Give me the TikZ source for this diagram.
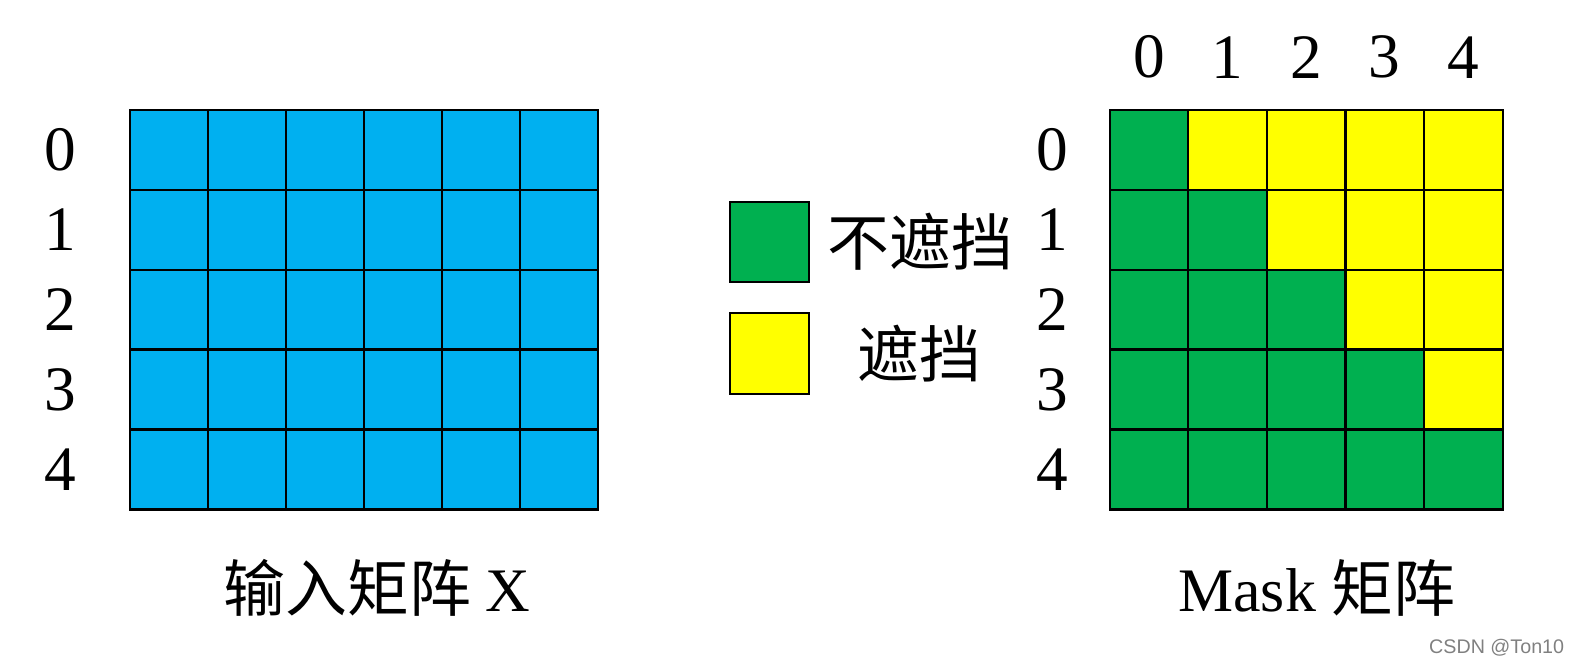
\documentclass[tikz,border=0pt]{standalone}
\usepackage{fontspec}
\setmainfont{Liberation Serif}
\newfontfamily\cjk{Noto Sans CJK SC}
\newfontfamily\wmfont{Liberation Sans}
\usetikzlibrary{positioning}

\definecolor{inblue}{HTML}{00B0F0}
\definecolor{keepgreen}{HTML}{00B050}
\definecolor{maskyellow}{HTML}{FFFF00}

\tikzset{
	cell/.style={draw, line width=0.6pt, minimum width=0.7805cm, minimum height=0.7996cm, inner sep=0pt, outer sep=0pt},
	idx/.style={font=\fontsize{18}{20}\selectfont, inner sep=0pt},
	lbl/.style={font=\fontsize{17.6}{20}\selectfont, inner sep=0pt},
}

\begin{document}
\begin{tikzpicture}[x=0.010045cm, y=-0.010045cm]
	\useasboundingbox (0,0) rectangle (1568,662);

	% input matrix X
	\foreach \r in {0,...,4}{
		\node[idx] (xrow\r) at (60,149+\r*79.6) {\r};
		\foreach \c in {0,...,5}
			\node[cell, fill=inblue] (x\r\c) at (168+\c*77.7,149+\r*79.6) {};
	}
	\node[lbl] (xname) at (375,585) {\cjk 输入矩阵 \rmfamily X};

	% legend
	\node[cell, fill=keepgreen, minimum width=0.795cm, minimum height=0.805cm] (keep) at (766,241) {};
		\node[lbl] (keeptext) at (916,241) {\cjk 不遮挡};
	\node[cell, fill=maskyellow, minimum width=0.795cm, minimum height=0.805cm] (hide) at (766,352) {};
		\node[lbl] (hidetext) at (915,352) {\cjk 遮挡};

	% mask matrix
	\foreach \c in {0,...,4}
		\node[idx] (mcol\c) at (1144+\c*78.2,57) {\c};
	\foreach \r in {0,...,4}{
		\node[idx] (mrow\r) at (1048,149+\r*79.6) {\r};
		\foreach \c in {0,...,4}{
			\ifnum\c>\r \def\cellcol{maskyellow}\else\def\cellcol{keepgreen}\fi
			\node[cell, fill=\cellcol, minimum width=0.7855cm] (m\r\c) at (1144+\c*78.2,149+\r*79.6) {};
		}
	}
	\node[lbl] (mname) at (1311,585) {Mask \cjk 矩阵};

	\node[font=\wmfont\fontsize{5.6}{7}\selectfont, text=gray, inner sep=0pt] (wm) at (1490,645) {CSDN @Ton10};
\end{tikzpicture}
\end{document}
